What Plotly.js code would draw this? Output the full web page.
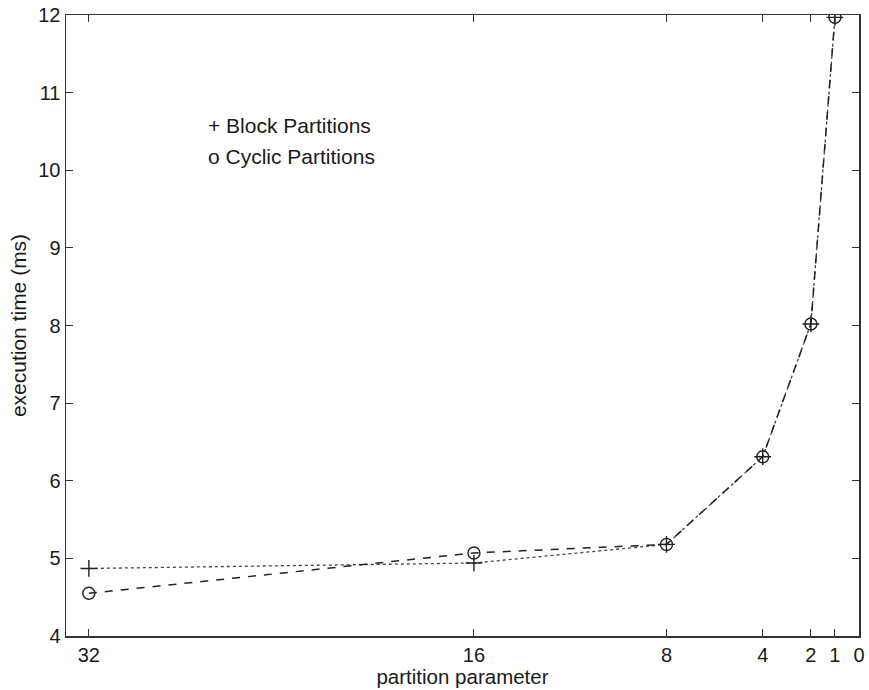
<!DOCTYPE html>
<html>
<head>
<meta charset="utf-8">
<script src="https://cdn.plot.ly/plotly-3.0.1.min.js"></script>
<style>html,body{margin:0;padding:0;background:#fff;}#chart{width:869px;height:690px;}</style>
</head>
<body>
<div id="chart"></div>
<script>
const partitionParam = [32, 16, 8, 4, 2, 1];
const blockTimes = [4.87, 4.94, 5.18, 6.31, 8.02, 11.97];
const cyclicTimes = [4.55, 5.07, 5.18, 6.31, 8.02, 11.97];
const xTicks = [32, 16, 8, 4, 2, 1, 0];
const yTicks = [4, 5, 6, 7, 8, 9, 10, 11, 12];
const legendLines = ["+ Block Partitions", "o Cyclic Partitions"];

const fam = "Liberation Sans, Arial, sans-serif";
const txt = "#1a1a1a";

const traces = [
  {x: partitionParam, y: blockTimes, mode: "lines+markers", name: "Block",
   line: {color: "#444", width: 1.3, dash: "dot"},
   marker: {symbol: "cross-thin-open", size: 12, color: "#222", line: {width: 1.4, color: "#222"}}},
  {x: partitionParam, y: cyclicTimes, mode: "lines+markers", name: "Cyclic",
   line: {color: "#222", width: 1.5, dash: "8px,8px"},
   marker: {symbol: "circle-open", size: 12, color: "#222", line: {width: 1.4, color: "#222"}}}
];

const layout = {
  width: 869, height: 690,
  margin: {l: 66, r: 10, t: 15, b: 54},
  paper_bgcolor: "#fff", plot_bgcolor: "#fff",
  showlegend: false,
  font: {family: fam, color: txt, size: 20},
  xaxis: {
    range: [32.95, 0], tickmode: "array", tickvals: xTicks, ticktext: xTicks.map(String),
    ticks: "inside", ticklen: 7, tickwidth: 1, tickcolor: "#333",
    showline: true, linecolor: "#333", linewidth: 1.5, mirror: "ticks",
    showgrid: false, zeroline: false,
    tickfont: {size: 20, family: fam, color: txt},
    title: {text: "partition parameter", font: {size: 20.5, family: fam, color: txt}, standoff: 2}
  },
  yaxis: {
    range: [4, 12], tickmode: "array", tickvals: yTicks,
    ticks: "inside", ticklen: 7, tickwidth: 1, tickcolor: "#333",
    showline: true, linecolor: "#333", linewidth: 1.5, mirror: "ticks",
    showgrid: false, zeroline: false,
    tickfont: {size: 20, family: fam, color: txt},
    title: {text: "execution time (ms)", font: {size: 21, family: fam, color: txt}, standoff: 6}
  },
  annotations: legendLines.map((t, i) => ({
    text: t, xref: "paper", yref: "paper", x: 0.177, y: 0.822 - i * 0.05,
    xanchor: "left", yanchor: "middle", showarrow: false,
    font: {size: 21, family: fam, color: txt}
  }))
};

Plotly.newPlot("chart", traces, layout, {displayModeBar: false, staticPlot: true});
</script>
</body>
</html>
